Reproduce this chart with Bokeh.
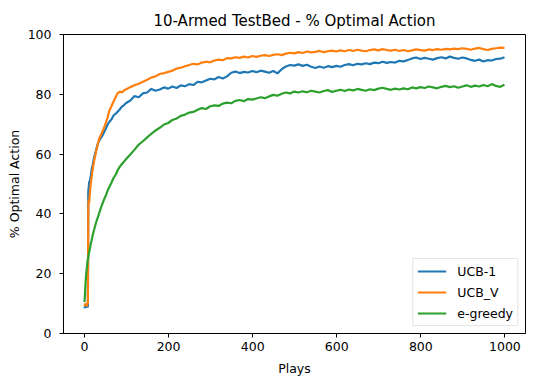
from bokeh.plotting import figure
from bokeh.models import Range1d, FixedTicker, Legend, LegendItem
from bokeh.embed import file_html
from bokeh.resources import INLINE

# ---- data ----
plays_early = [0, 1, 2, 3, 4, 5, 6, 7, 8, 9, 10, 11, 13, 15, 17, 19,
               23, 27, 31, 35, 39, 43, 47, 51, 55, 59,
               64, 69, 74, 79, 84, 89, 94, 99]
plays_late = list(range(109, 1000, 10))
plays = plays_early + plays_late

ucb1_early = [9.0, 8.5, 9.2, 8.6, 9.4, 8.8, 9.1, 8.7, 9.3,
              47.5, 48.8, 50.6, 51.2, 52.8, 54.9, 56.0,
              59.0, 61.0, 63.2, 64.6, 65.4, 66.3, 67.5, 68.6, 69.9, 70.8,
              71.6, 72.9, 73.5, 74.2, 75.0, 75.9, 76.4, 77.1]
ucb1_late = [77.9, 79.4, 79.0, 80.3, 80.6, 81.8, 81.2, 81.6, 82.3, 81.9,
             82.6, 82.1, 83.0, 82.7, 83.4, 83.1, 84.2, 84.0, 84.6, 85.2,
             85.0, 85.8, 85.3, 86.0, 87.2, 87.6, 87.1, 87.5, 87.3, 87.8,
             87.4, 87.9, 87.6, 87.2, 87.8, 87.0, 88.4, 89.3, 89.8, 89.6,
             90.0, 89.5, 89.9, 89.2, 88.8, 89.3, 88.9, 89.4, 89.1, 89.5,
             89.2, 89.8, 90.1, 89.7, 90.2, 90.0, 90.4, 90.1, 90.6, 90.4,
             90.9, 90.5, 90.8, 90.6, 91.2, 91.0, 91.5, 92.0, 92.3, 91.8,
             92.2, 91.9, 91.6, 92.1, 92.4, 92.0, 92.6, 92.2, 91.9, 92.3,
             92.0, 91.5, 91.2, 91.6, 91.0, 91.4, 91.3, 91.8, 91.9, 92.4]

ucbv_early = [9.8, 9.2, 10.1, 9.5, 9.7, 9.0, 9.6, 9.9, 10.3,
              42.5, 44.8, 43.6, 47.5, 50.2, 52.4, 54.6,
              57.8, 60.5, 63.0, 65.2, 66.4, 67.7, 69.0, 70.6, 72.3, 74.5,
              76.0, 77.6, 79.0, 80.4, 80.9, 80.6, 81.3, 81.7]
ucbv_late = [82.4, 83.0, 83.5, 84.2, 84.9, 85.6, 86.0, 86.8, 87.1, 87.5,
             87.9, 88.6, 88.9, 89.4, 89.8, 90.2, 90.0, 90.6, 90.9, 90.7,
             91.3, 91.6, 91.4, 92.1, 92.0, 92.4, 92.2, 92.6, 92.3, 92.8,
             92.5, 92.9, 93.1, 92.8, 93.2, 93.4, 93.1, 93.6, 93.9, 93.7,
             94.1, 93.8, 94.3, 94.0, 94.2, 94.5, 94.1, 94.4, 94.6, 94.3,
             94.7, 94.4, 94.8, 94.5, 94.9, 94.6, 94.4, 94.8, 95.0, 94.7,
             95.1, 94.8, 94.6, 94.9, 94.5, 94.8, 94.4, 94.7, 95.0, 94.8,
             94.6, 95.0, 94.8, 95.1, 94.9, 95.2, 95.0, 95.3, 95.1, 95.4,
             95.2, 94.9, 95.3, 95.5, 95.1, 94.8, 95.2, 95.4, 95.6, 95.5]

greedy_early = [10.5, 13.0, 15.8, 18.1, 20.0, 21.3, 22.6, 23.9, 24.8,
                25.6, 26.5, 27.2, 28.6, 30.1, 31.2, 32.6,
                34.8, 36.9, 38.6, 40.3, 42.0, 43.5, 45.0, 46.3, 47.8, 49.0,
                50.4, 52.0, 53.1, 54.6, 55.8, 56.7, 57.5, 58.4]
greedy_late = [59.9, 61.5, 63.2, 64.3, 65.6, 66.8, 67.9, 68.8, 69.9, 70.4,
               71.4, 71.9, 72.8, 73.2, 73.9, 74.1, 74.8, 75.4, 75.1, 76.0,
               76.3, 76.1, 76.9, 77.2, 77.0, 77.8, 78.1, 77.7, 78.4, 78.2,
               78.6, 79.0, 78.7, 79.3, 79.8, 79.5, 80.2, 80.6, 80.3, 80.9,
               80.6, 81.0, 80.7, 81.2, 80.9, 80.6, 81.1, 81.4, 80.8, 81.2,
               81.5, 81.1, 81.6, 81.3, 81.8, 81.5, 81.2, 81.7, 81.4, 81.9,
               82.2, 81.8, 81.5, 81.9, 81.6, 82.0, 81.7, 82.3, 82.0, 82.4,
               82.1, 82.6, 82.3, 82.0, 82.5, 82.8, 82.4, 82.7, 82.2, 82.6,
               83.0, 82.5, 82.9, 82.6, 83.1, 82.7, 83.4, 82.8, 82.5, 83.2]

series_names = ["UCB-1", "UCB_V", "e-greedy"]
series_values = [ucb1_early + ucb1_late, ucbv_early + ucbv_late, greedy_early + greedy_late]
series_colors = ["#1f77b4", "#ff7f0e", "#2ca02c"]

x_ticks = [0, 200, 400, 600, 800, 1000]
y_ticks = [0, 20, 40, 60, 80, 100]

FONT = "DejaVu Sans"

p = figure(width=560, height=381, output_backend="svg", toolbar_location=None,
           x_range=Range1d(-50, 1049), y_range=Range1d(0, 100),
           title="10-Armed TestBed - % Optimal Action")
p.min_border_left = 63
p.min_border_right = 35
p.min_border_top = 34
p.min_border_bottom = 48
p.background_fill_color = "white"
p.border_fill_color = "white"
p.outline_line_color = "black"
p.outline_line_width = 1
p.grid.visible = False

p.title.align = "center"
p.title.text_font = FONT
p.title.text_font_size = "15px"
p.title.text_font_style = "normal"
p.title.text_color = "black"

p.xaxis.ticker = FixedTicker(ticks=x_ticks)
p.yaxis.ticker = FixedTicker(ticks=y_ticks)
p.xaxis.axis_label = "Plays"
p.yaxis.axis_label = "% Optimal Action"
for ax in (p.xaxis, p.yaxis):
    ax.axis_label_text_font = FONT
    ax.axis_label_text_font_size = "12.5px"
    ax.axis_label_text_font_style = "normal"
    ax.axis_label_text_color = "black"
    ax.major_label_text_font = FONT
    ax.major_label_text_font_size = "12.5px"
    ax.major_label_text_color = "black"
    ax.axis_line_color = "black"
    ax.major_tick_line_color = "black"
    ax.major_tick_in = 0
    ax.major_tick_out = 4
    ax.minor_tick_line_color = None
p.xaxis.major_label_standoff = 4
p.xaxis.axis_label_standoff = 7
p.yaxis.major_label_standoff = 8
p.yaxis.axis_label_standoff = 3

items = []
for name, vals, col in zip(series_names, series_values, series_colors):
    r = p.line(plays, vals, line_color=col, line_width=2.2)
    items.append(LegendItem(label=name, renderers=[r]))

legend = Legend(items=items, location="bottom_right")
legend.margin = 7
legend.padding = 4
legend.spacing = 5
legend.glyph_width = 29
legend.glyph_height = 16
legend.label_height = 16
legend.label_standoff = 11
legend.label_text_font = FONT
legend.label_text_font_size = "12.5px"
legend.label_text_color = "black"
legend.border_line_color = "#cccccc"
legend.border_line_width = 1
legend.background_fill_alpha = 0.8
p.add_layout(legend)

open("out.html", "w").write(file_html(p, INLINE))
